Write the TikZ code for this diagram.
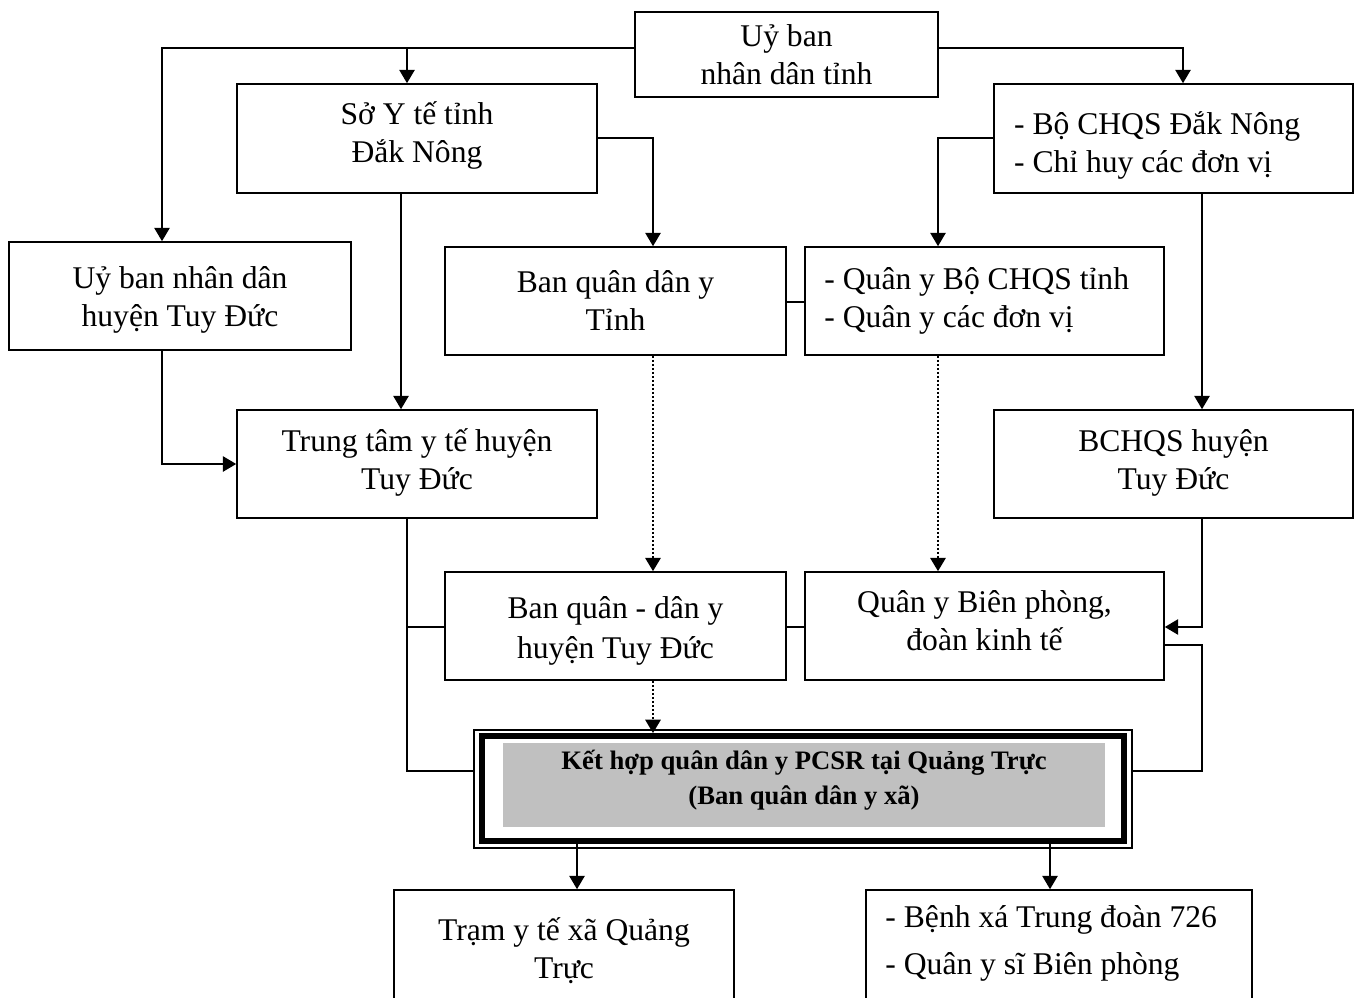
\documentclass[tikz,border=0pt]{standalone}
\usepackage{fontspec}
\setmainfont{Liberation Serif}
\usetikzlibrary{arrows.meta}
\definecolor{grayfill}{HTML}{C0C0C0}
\begin{document}
\begin{tikzpicture}[x=0.75pt,y=-0.75pt,
  box/.style={draw,line width=1.2pt,inner sep=0pt},
  txt/.style={inner sep=0pt,align=center,font=\fontsize{23.7pt}{28.5pt}\selectfont},
  ltxt/.style={inner sep=0pt,align=left,anchor=west,font=\fontsize{23.7pt}{28.5pt}\selectfont},
  conn/.style={line width=1.2pt},
  arr/.style={conn,-{Triangle[length=10pt,width=11.5pt]}},
  dotarr/.style={arr,line width=1.6pt,dash pattern=on 1.5pt off 1.5pt}
]
\useasboundingbox (0,0) rectangle (1359,998);
\clip (0,0) rectangle (1359,998);

% boxes
\node[box,minimum width=227.25pt,minimum height=63.75pt] (ubt) at (786.5,54.5) {};
\node[txt] (ubt-t) at (ubt.center) {Uỷ ban\\nhân dân tỉnh};
\node[box,minimum width=270pt,minimum height=81.75pt] (soyte) at (417,138.5) {};
\node[txt] (soyte-t) at ([yshift=2.25pt]soyte.center) {Sở Y tế tỉnh\\Đắk Nông};
\node[box,minimum width=269.25pt,minimum height=81.75pt] (bo) at (1173.5,138.5) {};
\node[ltxt] (bo-t) at ([xshift=15.5pt,yshift=-5.5pt]bo.west) {- Bộ CHQS Đắk Nông\\- Chỉ huy các đơn vị};
\node[box,minimum width=256.5pt,minimum height=81pt] (ubh) at (180,296) {};
\node[txt] (ubh-t) at ([yshift=-3pt]ubh.center) {Uỷ ban nhân dân\\huyện Tuy Đức};
\node[box,minimum width=255.75pt,minimum height=81pt] (bqt) at (615.5,301) {};
\node[txt] (bqt-t) at (bqt.center) {Ban quân dân y\\Tỉnh};
\node[box,minimum width=269.25pt,minimum height=81pt] (qyb) at (984.5,301) {};
\node[ltxt] (qyb-t) at ([xshift=15pt]qyb.west) {- Quân y Bộ CHQS tỉnh\\- Quân y các đơn vị};
\node[box,minimum width=270pt,minimum height=81pt] (ttyt) at (417,464) {};
\node[txt] (ttyt-t) at ([yshift=1.5pt]ttyt.center) {Trung tâm y tế huyện\\Tuy Đức};
\node[box,minimum width=269.25pt,minimum height=81pt] (bch) at (1173.5,464) {};
\node[txt] (bch-t) at ([yshift=1pt]bch.center) {BCHQS huyện\\Tuy Đức};
\node[box,minimum width=255.75pt,minimum height=81pt] (bqh) at (615.5,626) {};
\node[txt,font=\fontsize{23.7pt}{30pt}\selectfont] (bqh-t) at ([yshift=-3.75pt]bqh.center) {Ban quân - dân y\\huyện Tuy Đức};
\node[box,minimum width=269.25pt,minimum height=81pt] (qybp) at (984.5,626) {};
\node[txt] (qybp-t) at ([yshift=3.75pt]qybp.center) {Quân y Biên phòng,\\đoàn kinh tế};

% central box
\node[draw,line width=0.8pt,minimum width=493.5pt,minimum height=88.5pt,inner sep=0pt] (ket) at (803,789) {};
\node[draw,line width=4.5pt,minimum width=481.5pt,minimum height=78.75pt,inner sep=0pt] (ketin) at (803,788.5) {};
\node[fill=grayfill,minimum width=451.5pt,minimum height=63pt,inner sep=0pt] (ketbg) at (804,785) {};
\node[inner sep=0pt,align=center,font=\fontsize{20pt}{26pt}\selectfont\bfseries] (ketlbl) at ([yshift=3.75pt]ketbg.center) {Kết hợp quân dân y PCSR tại Quảng Trực\\(Ban quân dân y xã)};

% bottom boxes (cut off by the page edge)
\node[box,minimum width=255pt,minimum height=85.5pt] (tram) at (564,947) {};
\node[txt] (tram-t) at ([yshift=-3pt]tram.center) {Trạm y tế xã Quảng\\Trực};
\node[box,minimum width=289.5pt,minimum height=85.5pt] (benh) at (1059,947) {};
\node[ltxt,font=\fontsize{23.7pt}{35.25pt}\selectfont] (benh-t) at ([xshift=15pt,yshift=2.6pt]benh.west) {- Bệnh xá Trung đoàn 726\\- Quân y sĩ Biên phòng};

% helper coordinates
\coordinate (a1) at (162,48);
\coordinate (a2) at (407,48);
\coordinate (a3) at (1183,48);
\coordinate (a4) at (653,138);
\coordinate (a5) at (401,0);
\coordinate (a6) at (938,138);
\coordinate (a7) at (1202,0);
\coordinate (a8) at (162,464);
\coordinate (a9) at (0,302);
\coordinate (a10) at (1202,627);
\coordinate (a11) at (1202,645);
\coordinate (a12) at (1202,771);
\coordinate (a13) at (407,771);
\coordinate (a14) at (407,627);
\coordinate (d1) at (577,0);
\coordinate (d2) at (1050,0);

% connectors
\draw[arr] (ubt.west |- a1) -| (a1 |- ubh.north);
\draw[arr] (a2) -- (a2 |- soyte.north);
\draw[arr] (ubt.east |- a3) -| (a3 |- bo.north);
\draw[arr] (soyte.east |- a4) -| (a4 |- bqt.north);
\draw[arr] (soyte.south -| a5) -- (ttyt.north -| a5);
\draw[arr] (bo.west |- a6) -| (a6 |- qyb.north);
\draw[arr] (bo.south -| a7) -- (bch.north -| a7);
\draw[arr] (ubh.south -| a8) |- (ttyt.west |- a8);
\draw[conn] (bqt.east |- a9) -- (qyb.west |- a9);
\draw[dotarr] (bqt.south -| a4) -- (bqh.north -| a4);
\draw[dotarr] (qyb.south -| a6) -- (qybp.north -| a6);
\draw[arr] (bch.south -| a10) |- (qybp.east |- a10);
\draw[conn] (qybp.east |- a11) -| (a12) -- (ket.east |- a12);
\draw[conn] (ttyt.south -| a13) |- (ket.west |- a13);
\draw[conn] (a14) -- (bqh.west |- a14);
\draw[conn] (bqh.east |- a14) -- (qybp.west |- a14);
\draw[dotarr] (bqh.south -| a4) -- (ketin.north -| a4);
\draw[arr] (ketin.south -| d1) -- (tram.north -| d1);
\draw[arr] (ketin.south -| d2) -- (benh.north -| d2);
\end{tikzpicture}
\end{document}
